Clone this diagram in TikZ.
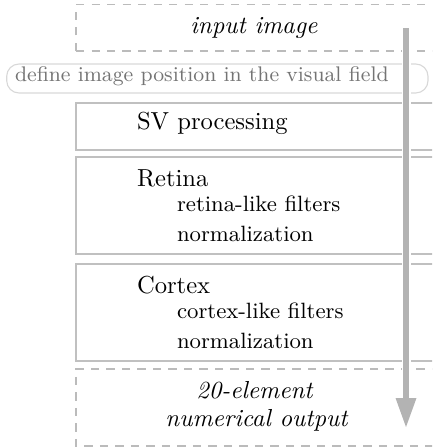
\documentclass[tikz,border=0pt]{standalone}
\usepackage{tikz}
\usetikzlibrary{arrows.meta, positioning}
\definecolor{rahmen}{HTML}{C0C0C0}
\definecolor{pfeil}{HTML}{B3B3B3}
\definecolor{blass}{HTML}{D8D8D8}
\definecolor{textgrau}{HTML}{747474}

\begin{document}
\begin{tikzpicture}[
    x=0.4065pt, y=-0.4065pt,
    every node/.style={inner sep=0pt, outer sep=0pt},
    stufe/.style={draw=rahmen, line width=0.45pt},
    offen/.style={draw=pfeil!90, line width=0.45pt, dash pattern=on 3.3pt off 3pt},
    titel/.style={anchor=base west},
    punkt/.style={anchor=base west, font=\small},
  ]
  \useasboundingbox (0,0) rectangle (432,447);
  \clip (0,0) rectangle (432,447);

  % Rahmen der Stufen
  \draw[offen] (76,51) -- (76,4.7) -- (440,4.7) (76,51) -- (440,51);
  \draw[blass, line width=0.45pt, rounded corners=5pt]
    (6.7,64) rectangle (428,93);
  \draw[stufe] (76,103) rectangle (434,150);
  \draw[stufe] (76,157) rectangle (434,254);
  \draw[stufe] (76,264) rectangle (434,361);
  \draw[offen] (440,369) -- (76,369) -- (76,446) -- (440,446);

  % Texte
  \node[anchor=base] (eingabe) at (254,34) {\textit{input image}};
  \node[anchor=base west, textgrau, font=\fontsize{8.6}{10}\selectfont]
    (feldtext) at (15,82) {define image position in the visual field};
  \node[titel] (svtext) at (137,130) {SV processing};
  \node[titel] (retinatext) at (137,186.7) {Retina};
  \node[punkt] (retinafilter) at (177,211.7) {retina-like filters};
  \node[punkt] (retinanorm) at (177,241.7) {normalization};
  \node[titel] (cortextext) at (137,293.7) {Cortex};
  \node[punkt] (cortexfilter) at (177,318.7) {cortex-like filters};
  \node[punkt] (cortexnorm) at (177,348.7) {normalization};
  \node[anchor=base] (ausgabe1) at (255,398.3) {\textit{20-element}};
  \node[anchor=base] (ausgabe2) at (257,426.7) {\textit{numerical output}};

  % Verarbeitungspfeil
  \coordinate (oben) at (406,28);
  \coordinate (spitze) at (406,398);
  \coordinate (unten) at (406,427);
  \fill[white] (401.5,28) rectangle (410.5,398);
  \fill[pfeil] (403,28) rectangle (409,399);
  \fill[pfeil] (395.5,398) -- (unten) -- (416.5,398) -- cycle;
\end{tikzpicture}
\end{document}
